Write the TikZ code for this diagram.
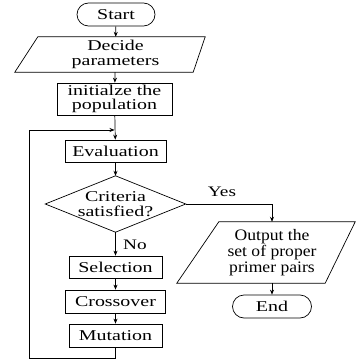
\documentclass[tikz,border=0pt]{standalone}
\usepackage{fontspec}
\setmainfont[FakeStretch=1.33]{Liberation Serif}
\newfontfamily\outfont[FakeStretch=1.1]{Liberation Serif}
\usetikzlibrary{arrows.meta}

\tikzset{
  box/.style={draw, line width=0.7pt, inner sep=0pt, align=center,
    font=\fontsize{15}{14.5}\selectfont},
  term/.style={box, rounded corners=11.5pt},
  shell/.style={inner sep=0pt, align=center, font=\fontsize{15}{15}\selectfont},
  flow/.style={->, line width=0.7pt},
  lbl/.style={font=\fontsize{14.5}{15}\selectfont}
}

\begin{document}
\begin{tikzpicture}[x=1pt, y=-1pt, >={Stealth[length=5pt, width=4pt]}]
  \useasboundingbox (0,0) rectangle (357,364);
  % main column
  \node[term, minimum width=78, minimum height=23] (start) at (116,14.5) {Start};
  \node[shell, minimum width=155, minimum height=35] (dec) at (115.5,54.5) {Decide\\parameters};
  \draw[line width=0.7pt] (dec.north west) -- ([xshift=12pt]dec.north east)
    -- (dec.south east) -- ([xshift=-23pt]dec.south west) -- cycle;
  \node[box, minimum width=115, minimum height=32] (init) at (114.5,99) {initialze the\\population};
  \node[box, minimum width=101, minimum height=22] (eval) at (115.5,151) {Evaluation};
  \node[shell, minimum width=140, minimum height=56] (crit) at (115.5,204) {Criteria\\satisfied?};
  \draw[line width=0.7pt] (crit.west) -- (crit.north) -- (crit.east) -- (crit.south) -- cycle;
  \node[box, minimum width=93, minimum height=22] (sel) at (115.5,267) {Selection};
  \node[box, minimum width=100, minimum height=23] (cross) at (115.5,301.5) {Crossover};
  \node[box, minimum width=93, minimum height=23] (mut) at (115.5,335.5) {Mutation};
  % output branch
  \node[shell, minimum width=106, minimum height=61, font=\outfont\fontsize{16}{16}\selectfont] (out) at (272,252.5)
    {Output the\\set of proper\\primer pairs};
  \draw[line width=0.7pt] (out.north west) -- ([xshift=30pt]out.north east)
    -- (out.south east) -- ([xshift=-42pt]out.south west) -- cycle;
  \node[term, minimum width=79, minimum height=23] (end) at (272,306.5) {End};
  % connectors
  \coordinate (loopin) at (init.south |- 0,130);
  \draw[flow] (start) -- (dec);
  \draw[flow] (dec) -- (init);
  \draw[flow] (init) -- (eval);
  \draw[flow] (eval) -- (crit);
  \draw[flow] (crit) -- (sel);
  \node[lbl] (no) at (135,245) {No};
  \draw[flow] (sel) -- (cross);
  \draw[flow] (cross) -- (mut);
  \draw[flow] (mut.south) -- ++(0,11) -| (29,130) -- (loopin);
  \draw[flow] (crit.east) -| (out.north);
  \node[lbl] (yes) at (222,192) {Yes};
  \draw[flow] (out) -- (end);
\end{tikzpicture}
\end{document}
